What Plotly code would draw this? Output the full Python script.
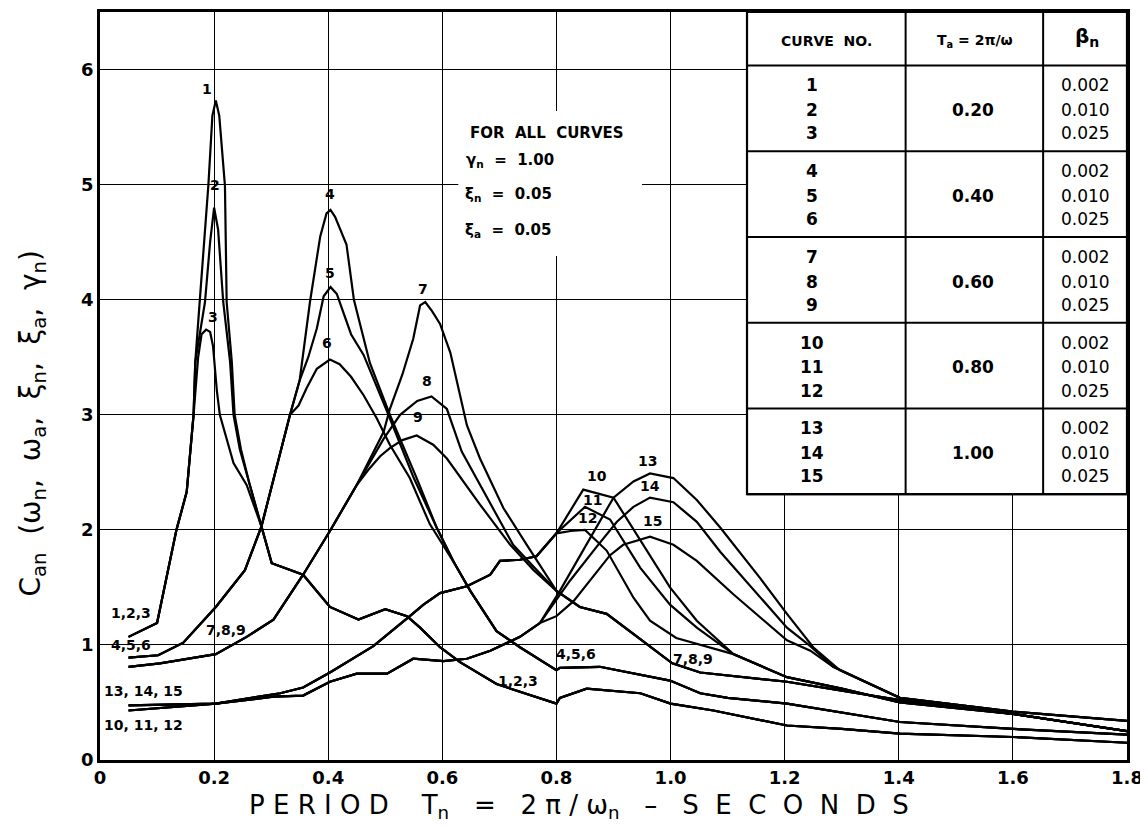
import plotly.graph_objects as go

# ---------------- DATA ----------------
# Group T_a = 0.20 : curves 1, 2, 3
g123_left_x = [0.05, 0.10, 0.134, 0.152, 0.164]
g123_left_y = [1.07, 1.19, 2.0, 2.33, 3.0]
c1_x = [0.167, 0.175, 0.19, 0.197, 0.203, 0.209, 0.219, 0.222, 0.231, 0.236, 0.247, 0.262, 0.283]
c1_y = [3.46, 4.0, 5.0, 5.6, 5.73, 5.6, 4.99, 3.98, 3.46, 3.0, 2.7, 2.4, 2.03]
c2_x = [0.167, 0.184, 0.193, 0.20, 0.207, 0.216, 0.228, 0.234, 0.245, 0.262, 0.283]
c2_y = [3.46, 3.98, 4.5, 4.80, 4.61, 3.98, 3.46, 3.0, 2.7, 2.4, 2.03]
c3_x = [0.172, 0.178, 0.186, 0.193, 0.198, 0.205, 0.21, 0.234, 0.257, 0.283]
c3_y = [3.5, 3.70, 3.74, 3.72, 3.6, 3.2, 3.0, 2.58, 2.39, 2.03]
g123_tail_x = [0.301, 0.356, 0.403, 0.453, 0.50, 0.538, 0.561, 0.596, 0.631, 0.695, 0.80, 0.806,
               0.853, 0.947, 1.0, 1.075, 1.157, 1.204, 1.3, 1.402, 1.6, 1.8]
g123_tail_y = [1.71, 1.61, 1.33, 1.22, 1.31, 1.25, 1.15, 0.98, 0.85, 0.66, 0.49, 0.54,
               0.62, 0.58, 0.49, 0.43, 0.35, 0.30, 0.27, 0.23, 0.20, 0.15]

# Group T_a = 0.40 : curves 4, 5, 6
g456_left_x = [0.05, 0.102, 0.146, 0.203, 0.254, 0.283, 0.333]
g456_left_y = [0.89, 0.91, 1.02, 1.33, 1.65, 2.03, 3.0]
c4_x = [0.35, 0.368, 0.386, 0.397, 0.404, 0.412, 0.432, 0.445, 0.473, 0.508, 0.555, 0.59]
c4_y = [3.3, 3.98, 4.55, 4.75, 4.78, 4.72, 4.48, 4.0, 3.45, 3.0, 2.45, 2.02]
c5_x = [0.35, 0.365, 0.38, 0.392, 0.404, 0.415, 0.427, 0.44, 0.462, 0.503, 0.55, 0.59]
c5_y = [3.3, 3.5, 3.75, 4.03, 4.11, 4.05, 3.89, 3.7, 3.52, 3.03, 2.45, 2.02]
c6_x = [0.348, 0.362, 0.38, 0.403, 0.42, 0.44, 0.462, 0.485, 0.508, 0.543, 0.578]
c6_y = [3.08, 3.23, 3.4, 3.48, 3.44, 3.33, 3.17, 2.97, 2.74, 2.45, 2.05]
g456_tail_x = [0.62, 0.649, 0.695, 0.736, 0.80, 0.806, 0.876, 0.999, 1.052, 1.1, 1.204, 1.402, 1.6, 1.8]
g456_tail_y = [1.72, 1.47, 1.12, 0.98, 0.78, 0.80, 0.81, 0.69, 0.58, 0.54, 0.49, 0.33, 0.27, 0.22]

# Group T_a = 0.60 : curves 7, 8, 9
g789_left_x = [0.05, 0.105, 0.203, 0.257, 0.304, 0.356, 0.403, 0.45]
g789_left_y = [0.81, 0.84, 0.92, 1.07, 1.22, 1.61, 1.99, 2.39]
c7_x = [0.497, 0.508, 0.53, 0.549, 0.561, 0.57, 0.582, 0.596, 0.614, 0.643, 0.666, 0.707, 0.748]
c7_y = [2.85, 3.05, 3.35, 3.66, 3.95, 3.98, 3.9, 3.79, 3.54, 2.91, 2.62, 2.19, 1.87]
c8_x = [0.497, 0.526, 0.556, 0.581, 0.608, 0.634, 0.666, 0.724, 0.76]
c8_y = [2.79, 3.0, 3.12, 3.16, 3.05, 2.68, 2.39, 1.87, 1.68]
c9_x = [0.47, 0.491, 0.508, 0.53, 0.555, 0.584, 0.608, 0.666, 0.719, 0.76]
c9_y = [2.52, 2.64, 2.71, 2.78, 2.82, 2.74, 2.62, 2.22, 1.87, 1.65]
g789_tail_x = [0.80, 0.841, 0.888, 0.947, 1.003, 1.052, 1.204, 1.402, 1.6, 1.8]
g789_tail_y = [1.47, 1.33, 1.27, 1.05, 0.84, 0.76, 0.68, 0.52, 0.40, 0.25]

# Group T_a = 0.80 : curves 10, 11, 12
g1012_left_x = [0.05, 0.105, 0.203, 0.316, 0.356, 0.403, 0.479, 0.543, 0.567, 0.596, 0.643, 0.684,
                0.701, 0.736, 0.765, 0.80]
g1012_left_y = [0.43, 0.45, 0.49, 0.58, 0.63, 0.76, 0.99, 1.25, 1.35, 1.45, 1.51, 1.61,
                1.73, 1.74, 1.77, 1.97]
c10_x = [0.847, 0.90, 0.923, 0.958, 0.999, 1.046, 1.098, 1.11]
c10_y = [2.35, 2.28, 2.10, 1.82, 1.50, 1.21, 0.98, 0.92]
c11_x = [0.85, 0.894, 0.947, 0.999, 1.046, 1.11]
c11_y = [2.20, 2.09, 1.67, 1.35, 1.15, 0.92]
c12_x = [0.825, 0.85, 0.888, 0.935, 0.964, 1.01, 1.11]
c12_y = [1.99, 2.0, 1.82, 1.41, 1.21, 1.06, 0.92]
g1012_tail_x = [1.204, 1.3, 1.402, 1.6, 1.8]
g1012_tail_y = [0.72, 0.62, 0.50, 0.40, 0.25]

# Group T_a = 1.00 : curves 13, 14, 15
g1315_left_x = [0.05, 0.105, 0.203, 0.304, 0.356, 0.403, 0.45, 0.503, 0.549, 0.602, 0.643, 0.684,
                0.736, 0.771]
g1315_left_y = [0.475, 0.48, 0.49, 0.55, 0.56, 0.68, 0.75, 0.75, 0.88, 0.86, 0.88, 0.95,
                1.07, 1.19]
c13_x = [0.806, 0.85, 0.90, 0.935, 0.964, 1.005, 1.046, 1.087, 1.157, 1.204, 1.25, 1.297]
c13_y = [1.47, 1.85, 2.28, 2.42, 2.49, 2.45, 2.26, 2.02, 1.58, 1.27, 0.98, 0.78]
c14_x = [0.824, 0.87, 0.906, 0.935, 0.964, 1.005, 1.046, 1.087, 1.157, 1.204, 1.245, 1.285]
c14_y = [1.56, 1.85, 2.07, 2.2, 2.28, 2.24, 2.07, 1.81, 1.41, 1.15, 0.99, 0.81]
c15_x = [0.80, 0.83, 0.894, 0.917, 0.964, 1.005, 1.046, 1.11, 1.204, 1.245, 1.285]
c15_y = [1.25, 1.38, 1.78, 1.87, 1.94, 1.87, 1.73, 1.44, 1.04, 0.95, 0.81]
g1315_tail_x = [1.402, 1.6, 1.8]
g1315_tail_y = [0.54, 0.42, 0.34]

# Table contents
curve_numbers = [str(i) for i in range(1, 16)]
ta_values = ["0.20", "0.40", "0.60", "0.80", "1.00"]
beta_values = ["0.002", "0.010", "0.025"]

# Axis ticks
x_ticks = [0, 0.2, 0.4, 0.6, 0.8, 1.0, 1.2, 1.4, 1.6, 1.8]
x_tick_text = ["0", "0.2", "0.4", "0.6", "0.8", "1.0", "1.2", "1.4", "1.6", "1.8"]
y_ticks = [0, 1, 2, 3, 4, 5, 6]
y_tick_text = ["0", "1", "2", "3", "4", "5", "6"]

# ---------------- BUILD ----------------
curves = {
    "1": (g123_left_x + c1_x + g123_tail_x, g123_left_y + c1_y + g123_tail_y),
    "2": (g123_left_x + c2_x + g123_tail_x, g123_left_y + c2_y + g123_tail_y),
    "3": (g123_left_x + c3_x + g123_tail_x, g123_left_y + c3_y + g123_tail_y),
    "4": (g456_left_x + c4_x + g456_tail_x, g456_left_y + c4_y + g456_tail_y),
    "5": (g456_left_x + c5_x + g456_tail_x, g456_left_y + c5_y + g456_tail_y),
    "6": (g456_left_x + c6_x + g456_tail_x, g456_left_y + c6_y + g456_tail_y),
    "7": (g789_left_x + c7_x + g789_tail_x, g789_left_y + c7_y + g789_tail_y),
    "8": (g789_left_x + c8_x + g789_tail_x, g789_left_y + c8_y + g789_tail_y),
    "9": (g789_left_x + c9_x + g789_tail_x, g789_left_y + c9_y + g789_tail_y),
    "10": (g1012_left_x + c10_x + g1012_tail_x, g1012_left_y + c10_y + g1012_tail_y),
    "11": (g1012_left_x + c11_x + g1012_tail_x, g1012_left_y + c11_y + g1012_tail_y),
    "12": (g1012_left_x + c12_x + g1012_tail_x, g1012_left_y + c12_y + g1012_tail_y),
    "13": (g1315_left_x + c13_x + g1315_tail_x, g1315_left_y + c13_y + g1315_tail_y),
    "14": (g1315_left_x + c14_x + g1315_tail_x, g1315_left_y + c14_y + g1315_tail_y),
    "15": (g1315_left_x + c15_x + g1315_tail_x, g1315_left_y + c15_y + g1315_tail_y),
}

FONT = "DejaVu Sans"
fig = go.Figure()
for name, (xs, ys) in curves.items():
    fig.add_trace(go.Scatter(x=xs, y=ys, mode="lines", name="Curve " + name,
                             line=dict(color="black", width=2.2),
                             showlegend=False, hoverinfo="skip"))

annotations = []

def label(text, x, y, size=14, xanchor="center", bold=True):
    annotations.append(dict(x=x, y=y, xref="x", yref="y", text=text, showarrow=False,
                            xanchor=xanchor, yanchor="middle",
                            font=dict(family=FONT, size=size, color="black",
                                      weight="bold" if bold else "normal")))

# curve labels
curve_label_specs = [
    ("1", 0.188, 5.83), ("2", 0.202, 5.0), ("3", 0.198, 3.85),
    ("4", 0.403, 4.92), ("5", 0.403, 4.23), ("6", 0.398, 3.62),
    ("7", 0.566, 4.09), ("8", 0.573, 3.29), ("9", 0.557, 2.98),
    ("10", 0.871, 2.47), ("11", 0.864, 2.26), ("12", 0.855, 2.10),
    ("13", 0.96, 2.60), ("14", 0.964, 2.38), ("15", 0.968, 2.08),
    ("1,2,3", 0.054, 1.28), ("4,5,6", 0.055, 1.0), ("7,8,9", 0.221, 1.13),
    ("13, 14, 15", 0.077, 0.60), ("10, 11, 12", 0.077, 0.30),
    ("4,5,6", 0.835, 0.92), ("1,2,3", 0.733, 0.69), ("7,8,9", 1.04, 0.88),
]
for t, x, y in curve_label_specs:
    label(t, x, y, size=14)

# "for all curves" note (sits on a white patch that interrupts the grid)
note_box = dict(type="rect", xref="x", yref="y", x0=0.628, x1=0.95, y0=4.38, y1=5.64,
                fillcolor="white", line=dict(width=0), layer="above")
label("FOR  ALL  CURVES", 0.645, 5.45, size=15, xanchor="left")
label("γ<sub>n</sub>  =  1.00", 0.638, 5.21, size=15, xanchor="left")
label("ξ<sub>n</sub>  =  0.05", 0.636, 4.91, size=15, xanchor="left")
label("ξ<sub>a</sub>  =  0.05", 0.636, 4.60, size=15, xanchor="left")

# ---------------- TABLE ----------------
tx_left, tx_c1, tx_c2, tx_right = 1.134, 1.412, 1.653, 1.8
ty_top, ty_head = 6.5, 6.035
group_h = 0.745
shapes = [note_box,
          dict(type="rect", xref="x", yref="y", x0=tx_left, x1=tx_right,
               y0=ty_head - 5 * group_h, y1=ty_top, fillcolor="white",
               line=dict(color="black", width=2.2), layer="above")]
for xv in (tx_c1, tx_c2):
    shapes.append(dict(type="line", xref="x", yref="y", x0=xv, x1=xv,
                       y0=ty_head - 5 * group_h, y1=ty_top,
                       line=dict(color="black", width=2), layer="above"))
for g in range(6):
    yv = ty_head - g * group_h
    shapes.append(dict(type="line", xref="x", yref="y", x0=tx_left, x1=tx_right,
                       y0=yv, y1=yv, line=dict(color="black", width=2), layer="above"))

label("CURVE  NO.", 1.273, 6.25, size=14)
label("T<sub>a</sub> = 2π/ω", 1.534, 6.25, size=14)
label("β<sub>n</sub>", 1.73, 6.28, size=20, bold=True)
row_offsets = [0.173, 0.389, 0.59]
for g, ta in enumerate(ta_values):
    gtop = ty_head - g * group_h
    for r in range(3):
        yv = gtop - row_offsets[r]
        label(curve_numbers[3 * g + r], 1.248, yv, size=17)
        label(beta_values[r], 1.728, yv, size=17, bold=False)
    label(ta, 1.530, gtop - row_offsets[1], size=17)

# axis titles
annotations.append(dict(x=0.466, y=-0.062, xref="paper", yref="paper", yanchor="middle",
                        text="P E R I O D    T<sub>n</sub>   =   2 π / ω<sub>n</sub>   –   S  E  C  O  N  D  S",
                        showarrow=False, font=dict(family=FONT, size=26, color="black")))
annotations.append(dict(x=-0.066, y=0.45, xref="paper", yref="paper", textangle=-90,
                        xanchor="center", yanchor="middle",
                        text="C<sub>an</sub>  (ω<sub>n</sub>,  ω<sub>a</sub>,  ξ<sub>n</sub>,  ξ<sub>a</sub>,  γ<sub>n</sub>)",
                        showarrow=False, font=dict(family=FONT, size=28, color="black")))

axis_common = dict(showgrid=True, gridcolor="black", gridwidth=1.4, showline=True,
                   linecolor="black", linewidth=2.5, mirror=True, ticks="", zeroline=False,
                   tickfont=dict(family=FONT, size=18, color="black", weight="bold"))

# The page adds an 8 px body margin, so the figure is sized and offset to compensate.
fig.update_layout(
    width=1140, height=820,
    margin=dict(l=92, r=21, t=1, b=68),
    plot_bgcolor="white", paper_bgcolor="white",
    xaxis=dict(range=[0, 1.8], tickvals=x_ticks, ticktext=x_tick_text, **axis_common),
    yaxis=dict(range=[0, 6.5], tickvals=y_ticks, ticktext=y_tick_text, **axis_common),
    annotations=annotations, shapes=shapes,
)

fig.write_html("out.html")
